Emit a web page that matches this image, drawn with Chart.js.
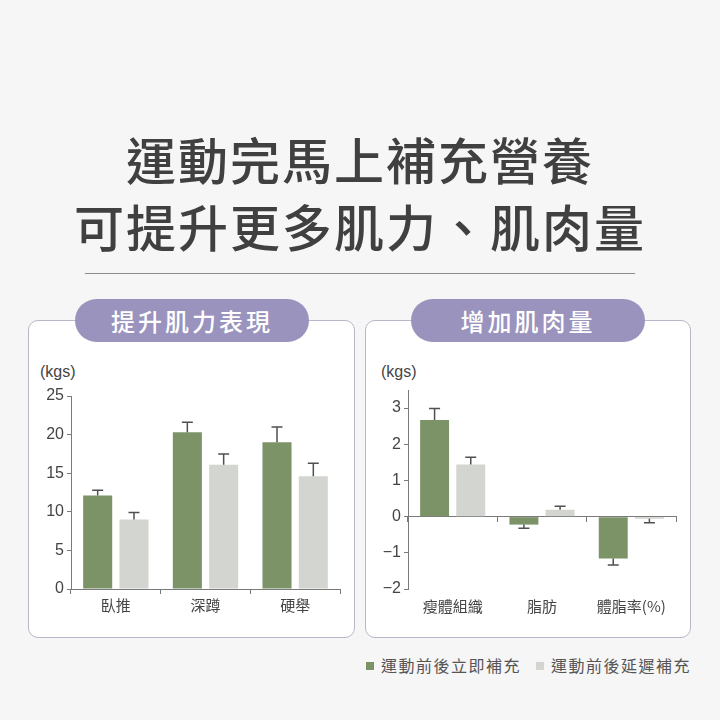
<!DOCTYPE html>
<html>
<head>
<meta charset="utf-8">
<script src="https://cdn.jsdelivr.net/npm/chart.js@4.4.1/dist/chart.umd.min.js"></script>
<style>
  body { margin: 0; width: 720px; height: 720px; background: #f6f6f6; position: relative; overflow: hidden;
         font-family: "Noto Sans CJK TC", sans-serif; }
  .title { position: absolute; left: 0; width: 720px; text-align: center; font-size: 50px; font-weight: 500;
           color: #404040; line-height: 1; letter-spacing: 2px; }
  .rule { position: absolute; left: 85px; width: 550px; top: 273px; height: 1px; background: #8c8c8c; }
  .panel { position: absolute; top: 320px; height: 318px; background: #fff; border: 1.5px solid #b8b6c8;
           border-radius: 10px; box-sizing: border-box; }
  .pill { position: absolute; top: 299px; height: 43px; width: 234px; border-radius: 22px; background: #9a93bd;
          color: #fff; font-size: 24px; font-weight: 500; letter-spacing: 3px; display: flex;
          align-items: center; justify-content: center; }
  .unit { position: absolute; top: 363px; font-family: "Liberation Sans", Arial, sans-serif; font-size: 16px; color: #444; }
  canvas { position: absolute; top: 350px; }
  .legend { position: absolute; top: 654px; font-size: 16px; color: #555; letter-spacing: 1.5px; line-height: 22px; }
  .sw { position: absolute; top: 662px; width: 8px; height: 8px; }
</style>
</head>
<body>
<div class="title" style="top:133px">運動完馬上補充營養</div>
<div class="title" style="top:200px">可提升更多肌力、肌肉量</div>
<div class="rule"></div>

<div class="panel" style="left:28px;width:327px"></div>
<div class="panel" style="left:365px;width:326px"></div>
<div class="pill" style="left:75px">提升肌力表現</div>
<div class="pill" style="left:411px">增加肌肉量</div>
<div class="unit" style="left:40px">(kgs)</div>
<div class="unit" style="left:381px">(kgs)</div>

<canvas id="strength" width="327" height="275" style="left:28px"></canvas>
<canvas id="mass" width="326" height="275" style="left:365px"></canvas>

<div class="sw" style="left:366px;background:#7b9367"></div>
<div class="legend" style="left:381px">運動前後立即補充</div>
<div class="sw" style="left:536px;background:#d3d6d0"></div>
<div class="legend" style="left:551px">運動前後延遲補充</div>

<script>
// strength chart (kgs)
const strengthLabels = ['臥推', '深蹲', '硬舉'];
const strengthNow = [12.1, 20.3, 19.0];
const strengthNowErr = [0.7, 1.3, 2.0];
const strengthLate = [9.0, 16.1, 14.6];
const strengthLateErr = [0.9, 1.4, 1.7];

// muscle mass chart (kgs)
const massLabels = ['瘦體組織', '脂肪', '體脂率(%)'];
const massNow = [2.67, -0.22, -1.16];
const massNowErr = [0.32, 0.10, 0.18];
const massLate = [1.44, 0.19, -0.06];
const massLateErr = [0.20, 0.10, 0.11];

const seriesNames = ['運動前後立即補充', '運動前後延遲補充'];

const GREEN = '#7b9367';
const GREY = '#d3d6d0';
const AXIS = '#7a7a7a';
const TEXT = '#444';
const NUM = '"Liberation Sans", Arial, sans-serif';
const CJK = '"Noto Sans CJK TC", sans-serif';

// draws the error whiskers (one direction, away from zero)
const errorBars = {
  id: 'errorBars',
  afterDatasetsDraw(chart) {
    const { ctx } = chart;
    const y = chart.scales.y;
    ctx.save();
    ctx.strokeStyle = '#505050';
    ctx.lineWidth = 1.5;
    chart.data.datasets.forEach((ds, i) => {
      chart.getDatasetMeta(i).data.forEach((bar, j) => {
        const v = ds.data[j];
        const e = ds.errors[j];
        const y0 = y.getPixelForValue(v);
        const y1 = y.getPixelForValue(v >= 0 ? v + e : v - e);
        ctx.beginPath();
        ctx.moveTo(bar.x, y0);
        ctx.lineTo(bar.x, y1);
        ctx.moveTo(bar.x - 5.5, y1);
        ctx.lineTo(bar.x + 5.5, y1);
        ctx.stroke();
      });
    });
    ctx.restore();
  },
};

function datasets(now, nowErr, late, lateErr) {
  return [
    { label: seriesNames[0], data: now, errors: nowErr, backgroundColor: GREEN },
    { label: seriesNames[1], data: late, errors: lateErr, backgroundColor: GREY },
  ];
}

const common = {
  responsive: false,
  animation: false,
  categoryPercentage: 0.81,
  barPercentage: 0.8,
  plugins: { legend: { display: false }, tooltip: { enabled: false } },
};

new Chart(document.getElementById('strength'), {
  type: 'bar',
  data: { labels: strengthLabels, datasets: datasets(strengthNow, strengthNowErr, strengthLate, strengthLateErr) },
  plugins: [errorBars],
  options: {
    ...common,
    layout: { padding: { top: 46, right: 15, left: 0, bottom: 0 } },
    scales: {
      x: {
        offset: true,
        grid: { offset: true, drawOnChartArea: false, color: AXIS, tickLength: 5 },
        border: { color: AXIS },
        ticks: { color: TEXT, font: { family: CJK, size: 15 }, padding: 2 },
        afterFit(s) { s.height = 36; },
      },
      y: {
        min: 0,
        max: 25,
        ticks: { stepSize: 5, color: TEXT, font: { family: NUM, size: 16 }, padding: 3 },
        grid: { drawOnChartArea: false, color: AXIS, tickLength: 4 },
        border: { color: AXIS },
        afterFit(s) { s.width = 43; },
      },
    },
  },
});

new Chart(document.getElementById('mass'), {
  type: 'bar',
  data: { labels: massLabels, datasets: datasets(massNow, massNowErr, massLate, massLateErr) },
  plugins: [errorBars],
  options: {
    ...common,
    layout: { padding: { top: 40, right: 15, left: 0, bottom: 0 } },
    scales: {
      x: {
        offset: true,
        grid: { display: false },
        border: { display: false },
        ticks: { color: TEXT, font: { family: CJK, size: 15 }, padding: 0 },
        afterFit(s) { s.height = 36; },
      },
      zero: {
        type: 'category',
        axis: 'x',
        position: { y: 0 },
        offset: true,
        grid: { offset: true, drawOnChartArea: false, color: AXIS, tickLength: 5 },
        border: { color: AXIS },
        ticks: { display: false },
      },
      y: {
        min: -2,
        max: 3.5,
        ticks: {
          stepSize: 0.5,
          color: TEXT,
          font: { family: NUM, size: 16 },
          padding: 3,
          callback: (v) => (Number.isInteger(v) ? (v < 0 ? '\u2212' + (-v) : String(v)) : ''),
        },
        grid: { drawOnChartArea: false, color: AXIS, tickLength: 4 },
        border: { color: AXIS },
        afterFit(s) { s.width = 43; },
      },
    },
  },
});
</script>
</body>
</html>
